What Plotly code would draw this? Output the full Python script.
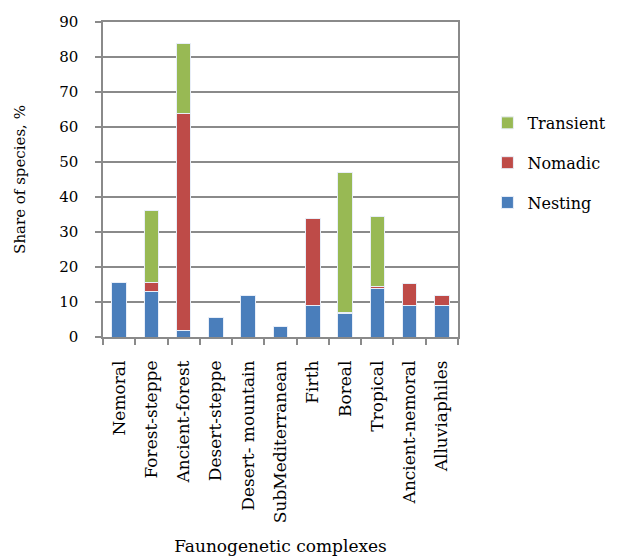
import plotly.graph_objects as go

complexes = ["Nemoral", "Forest-steppe", "Ancient-forest", "Desert-steppe",
             "Desert- mountain", "SubMediterranean", "Firth", "Boreal",
             "Tropical", "Ancient-nemoral", "Alluviaphiles"]
nesting = [15.5, 13.0, 2.0, 5.5, 12.0, 3.0, 9.0, 6.7, 13.8, 9.0, 9.0]
nomadic = [0.0, 2.6, 62.0, 0.0, 0.0, 0.0, 25.0, 0.4, 0.5, 6.2, 3.0]
transient = [0.0, 20.5, 20.0, 0.0, 0.0, 0.0, 0.0, 39.8, 20.0, 0.0, 0.0]

# (name, values, colour, legend rank) - legend lists the top segment first
series = [("Nesting", nesting, "#4a7ebb", 3),
          ("Nomadic", nomadic, "#be4b48", 2),
          ("Transient", transient, "#98b954", 1)]

serif = "DejaVu Serif"
fig = go.Figure()
for name, vals, color, rank in series:
    fig.add_trace(go.Bar(
        x=complexes, y=vals, name=name, legendgroup=name, legendrank=rank,
        marker=dict(color=color, line=dict(color="#e8eef8", width=1)),
    ))

axis_grey = "#8a8a8a"
fig.update_layout(
    barmode="stack",
    bargap=0.55,
    width=617, height=560,
    margin=dict(l=103, r=159, t=22, b=223),
    paper_bgcolor="white", plot_bgcolor="white",
    font=dict(family=serif, size=16, color="black"),
    legend=dict(
        traceorder="grouped",
        xref="container", yref="container",
        x=0.79, xanchor="left", y=0.709, yanchor="middle",
        font=dict(family=serif, size=16),
        itemwidth=30, tracegroupgap=16,
    ),
    showlegend=True,
)
fig.update_xaxes(
    automargin=False,
    tickangle=-90,
    tickson="boundaries",
    ticks="outside", ticklen=6, tickcolor=axis_grey, tickwidth=1.5,
    ticklabelstandoff=15,
    showline=True, linecolor=axis_grey, linewidth=1.5, mirror=True,
    showgrid=False,
    tickfont=dict(family=serif, size=17),
    title=dict(text="Faunogenetic complexes", font=dict(family=serif, size=17), standoff=18),
)
fig.update_yaxes(
    automargin=False,
    range=[0, 90], dtick=10,
    ticks="outside", ticklen=6, tickcolor=axis_grey, tickwidth=1.5,
    ticklabelstandoff=14,
    showline=True, linecolor=axis_grey, linewidth=1.5, mirror=True,
    showgrid=True, gridcolor=axis_grey, gridwidth=1.5,
    zeroline=False,
    tickfont=dict(family=serif, size=15),
    title=dict(text="Share of species, %", font=dict(family=serif, size=15), standoff=30),
)

fig.write_html("out.html")
